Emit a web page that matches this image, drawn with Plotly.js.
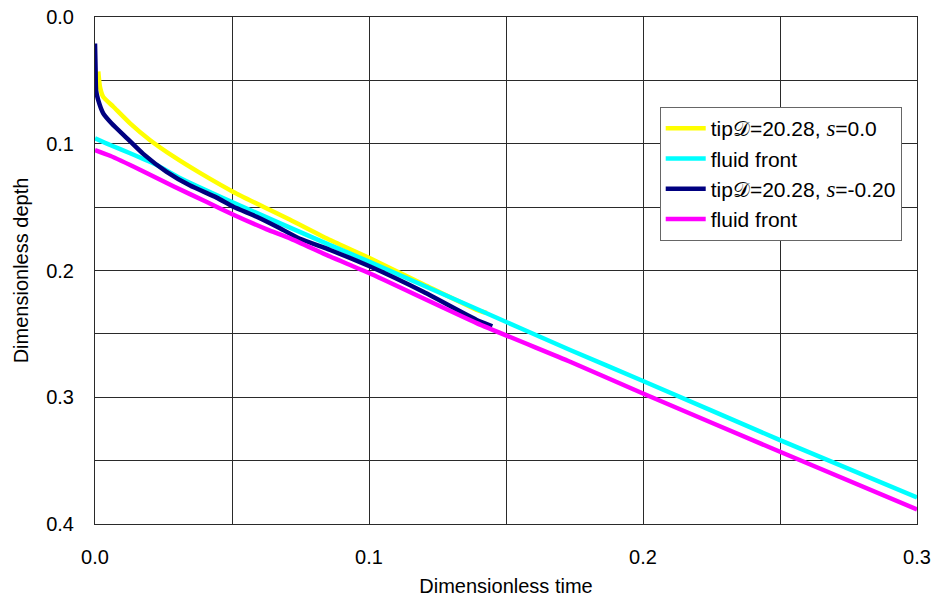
<!DOCTYPE html>
<html>
<head>
<meta charset="utf-8">
<script src="https://cdn.plot.ly/plotly-3.0.1.min.js"></script>
<style>html,body{margin:0;padding:0;background:#fff;}#chart{width:935px;height:599px;}</style>
</head>
<body>
<div id="chart"></div>
<script>
// Series names
const D = "\u{1D49F}";
const S = '<span style="font-family:Liberation Serif;font-size:23px"><i>s</i></span>';
const names = ["tip" + D + "=20.28, " + S + "=0.0", "fluid front", "tip" + D + "=20.28, " + S + "=-0.20", "fluid front"];

// tip, s = 0.0
const tip0X = [0.0012, 0.0018, 0.003, 0.0067, 0.0128, 0.020, 0.0286, 0.0383, 0.0505, 0.0614, 0.0712, 0.0858, 0.1, 0.12, 0.1393, 0.143];
const tip0Y = [0.043, 0.055, 0.063, 0.0708, 0.0839, 0.097, 0.110, 0.123, 0.138, 0.1497, 0.160, 0.176, 0.190, 0.211, 0.231, 0.2335];

// fluid front, s = 0.0
const front0X = [0, 0.0055, 0.0128, 0.0225, 0.031, 0.05, 0.0858, 0.1, 0.14, 0.1734, 0.2, 0.25, 0.3];
const front0Y = [0.0957, 0.101, 0.1075, 0.1168, 0.127, 0.146, 0.180, 0.193, 0.231, 0.2627, 0.2872, 0.3338, 0.379];

// tip, s = -0.20
const tip2X = [0, 0.0002, 0.0004, 0.0011, 0.003, 0.0061, 0.0116, 0.0176, 0.026, 0.0347, 0.0444, 0.0505, 0.059, 0.0675, 0.0748, 0.0858, 0.1, 0.12, 0.1393, 0.145];
const tip2Y = [0.021, 0.040, 0.058, 0.065, 0.076, 0.084, 0.0955, 0.108, 0.122, 0.133, 0.1425, 0.1497, 0.1576, 0.1667, 0.175, 0.1838, 0.1965, 0.217, 0.239, 0.244];

// fluid front, s = -0.20
const front2X = [0, 0.0055, 0.0164, 0.0286, 0.0408, 0.0505, 0.0627, 0.0712, 0.0858, 0.1, 0.1393, 0.1734, 0.2, 0.25, 0.3];
const front2Y = [0.105, 0.1095, 0.1205, 0.1335, 0.146, 0.156, 0.1675, 0.1746, 0.189, 0.202, 0.2415, 0.272, 0.297, 0.343, 0.3885];

const colors = ["#FFFF00", "#00FFFF", "#000080", "#FF00FF"];
const xs = [tip0X, front0X, tip2X, front2X];
const ys = [tip0Y, front0Y, tip2Y, front2Y];

const traces = xs.map((x, i) => ({
  x: x, y: ys[i], type: "scatter", mode: "lines", name: names[i],
  legendgroup: "g" + i,
  line: {color: colors[i], width: 4.5, shape: "spline", smoothing: 0.5}
}));

const font = "Liberation Sans, Arial, Helvetica, sans-serif";
const layout = {
  width: 935, height: 599,
  margin: {l: 95, r: 18, t: 17, b: 75},
  paper_bgcolor: "#fff", plot_bgcolor: "#fff",
  font: {family: font, size: 20, color: "#000"},
  showlegend: true,
  legend: {
    x: 0.687, y: 0.8225, xanchor: "left", yanchor: "top",
    bgcolor: "#fff", bordercolor: "#666", borderwidth: 1,
    font: {family: font, size: 21, color: "#000"},
    tracegroupgap: 0, traceorder: "grouped", itemwidth: 40
  },
  xaxis: {
    range: [0, 0.3], dtick: 0.1, tick0: 0, tickformat: ".1f",
    showgrid: true, gridcolor: "#2a2a2a", gridwidth: 1,
    minor: {dtick: 0.05, showgrid: true, gridcolor: "#2a2a2a", gridwidth: 1},
    showline: true, linecolor: "#2a2a2a", linewidth: 1, mirror: true,
    zeroline: false, ticks: "", ticklabelstandoff: 15,
    tickfont: {size: 20},
    title: {text: "Dimensionless time", font: {size: 20}, standoff: 11}
  },
  yaxis: {
    range: [0.4, 0], dtick: 0.1, tick0: 0, tickformat: ".1f",
    showgrid: true, gridcolor: "#2a2a2a", gridwidth: 1,
    minor: {dtick: 0.05, showgrid: true, gridcolor: "#2a2a2a", gridwidth: 1},
    showline: true, linecolor: "#2a2a2a", linewidth: 1, mirror: true,
    zeroline: false, ticks: "", ticklabelstandoff: 16,
    tickfont: {size: 20},
    title: {text: "Dimensionless depth", font: {size: 20}, standoff: 12}
  }
};

Plotly.newPlot("chart", traces, layout, {displayModeBar: false, staticPlot: true});
</script>
</body>
</html>
